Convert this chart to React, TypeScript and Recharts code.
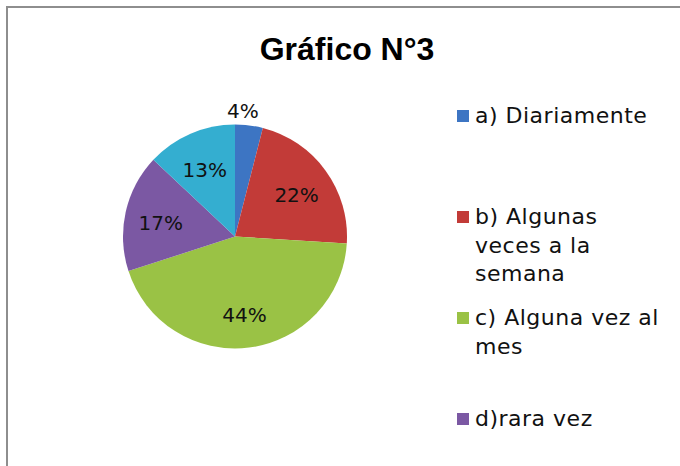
import { PieChart, Pie, Cell, Legend } from "recharts";

const categories = [
  "a) Diariamente",
  "b) Algunas veces a la semana",
  "c) Alguna vez al mes",
  "d)rara vez",
  "e)",
];
const shares = [4, 22, 44, 17, 13];
const colors = ["#3d75c3", "#c23b38", "#9ac245", "#7b58a3", "#34aed0"];

const data = categories.map((name, i) => ({ name, value: shares[i] }));

const RAD = Math.PI / 180;
const font = "'DejaVu Sans', sans-serif";

function renderLabel(props: any) {
  const { cx, cy, midAngle, outerRadius, percent } = props;
  const small = percent < 0.05;
  const r = small ? outerRadius + 15 : outerRadius * 0.68;
  const x = cx + r * Math.cos(-midAngle * RAD) - (small ? 8 : 0);
  const y = cy + r * Math.sin(-midAngle * RAD) + (small ? 0 : 3);
  return (
    <text
      x={x}
      y={y}
      fill="#111"
      textAnchor="middle"
      dominantBaseline="central"
      fontSize={20}
      fontFamily={font}
    >
      {`${Math.round(percent * 100)}%`}
    </text>
  );
}

function renderLegend(props: any) {
  // the last entry falls below the bottom edge in the original, so it is not shown
  const items = (props.payload || []).slice(0, 4);
  return (
    <div style={{ fontFamily: font, fontSize: 22, letterSpacing: 0.5, color: "#111" }}>
      {items.map((p: any, i: number) => (
        <div key={i} style={{ display: "flex", height: 101 }}>
          <div
            style={{
              width: 12,
              height: 12,
              marginTop: 3,
              marginRight: 6,
              flexShrink: 0,
              background: p.color,
            }}
          />
          <div style={{ width: 192, lineHeight: "28.5px", marginTop: -5 }}>{p.value}</div>
        </div>
      ))}
    </div>
  );
}

export default function App() {
  return (
    <div
      style={{
        position: "fixed",
        left: 0,
        top: 0,
        width: 680,
        height: 466,
        overflow: "hidden",
        background: "#fff",
      }}
    >
      <div
        style={{
          position: "absolute",
          left: 0,
          width: 694,
          top: 31,
          textAlign: "center",
          fontFamily: "'Liberation Sans', Arial, sans-serif",
          fontWeight: "bold",
          fontSize: 32,
          color: "#000",
        }}
      >
        Gráfico N°3
      </div>
      <PieChart
        width={680}
        height={466}
        margin={{ top: 0, right: 0, bottom: 0, left: 0 }}
        style={{ position: "absolute", left: 0, top: 0 }}
      >
        <Pie
          data={data}
          dataKey="value"
          nameKey="name"
          cx={235}
          cy={236.5}
          outerRadius={112}
          startAngle={90}
          endAngle={-270}
          stroke="none"
          label={renderLabel}
          labelLine={false}
          isAnimationActive={false}
        >
          {data.map((d, i) => (
            <Cell key={d.name} fill={colors[i]} />
          ))}
        </Pie>
        <Legend
          content={renderLegend}
          layout="vertical"
          wrapperStyle={{ position: "absolute", left: 457, top: 107, width: 220 }}
        />
      </PieChart>
      <div
        style={{
          position: "absolute",
          left: 6,
          top: 6,
          width: 700,
          height: 500,
          zIndex: 5,
          pointerEvents: "none",
          borderTop: "2px solid #8e8e8e",
          borderLeft: "2px solid #8e8e8e",
        }}
      />
    </div>
  );
}
